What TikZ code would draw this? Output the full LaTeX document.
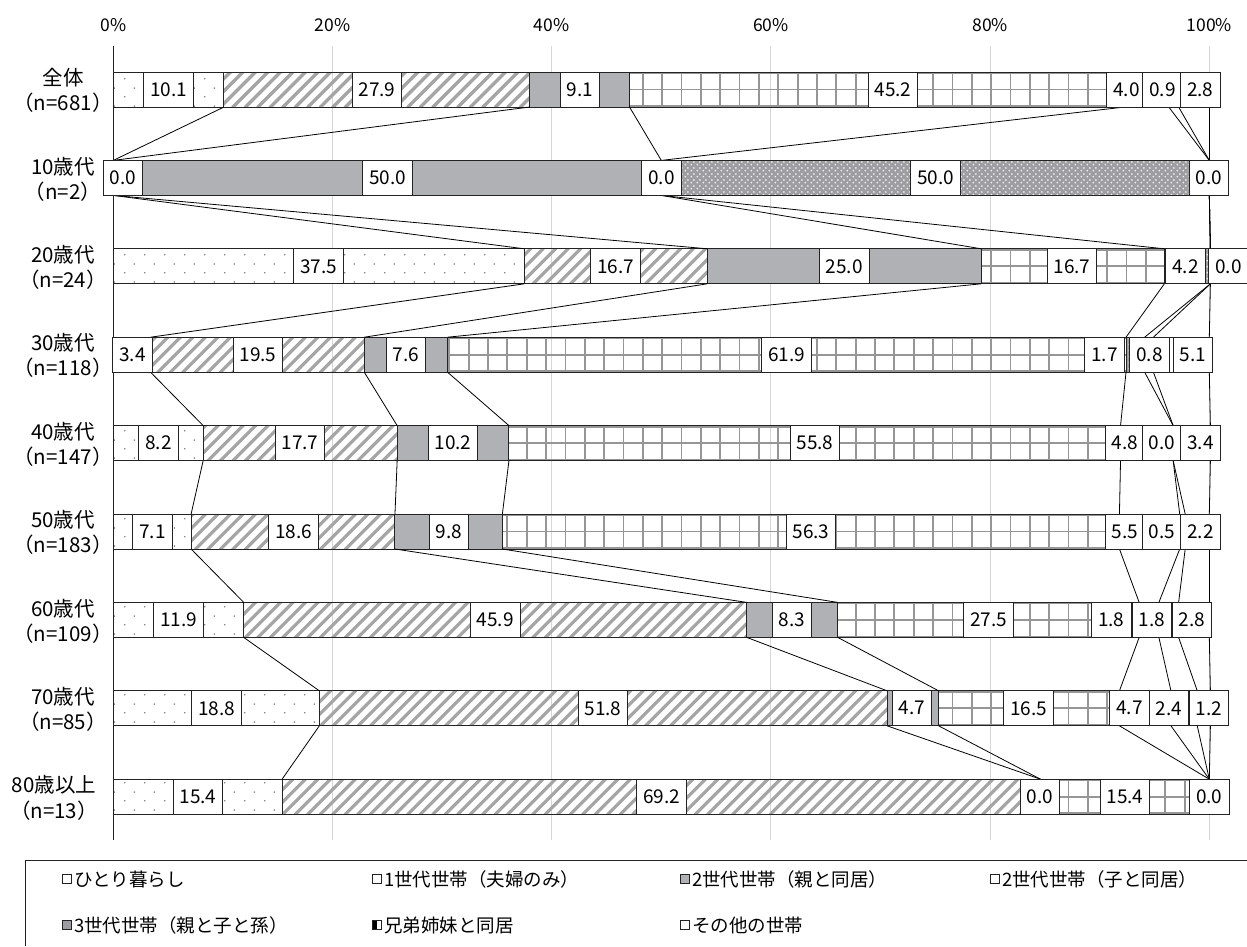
\documentclass[tikz,border=0pt]{standalone}
\usepackage{fontspec}
\setmainfont{Noto Sans CJK JP}
\usetikzlibrary{patterns,patterns.meta}

\definecolor{barline}{RGB}{35,35,35}
\definecolor{gridgray}{RGB}{215,215,215}
\definecolor{solidgray}{RGB}{176,177,181}
\definecolor{hatchgray}{RGB}{165,165,165}
\definecolor{gridlncol}{RGB}{150,150,150}
\definecolor{dotgray}{RGB}{130,130,130}
\definecolor{xgray}{RGB}{158,158,162}

\pgfdeclarepattern{name=sdots, type=uncolored,
  bottom left={\pgfpoint{0pt}{0pt}}, top right={\pgfpoint{20pt}{17.6pt}},
  tile size={\pgfpoint{20pt}{17.6pt}},
  code={\pgfpathcircle{\pgfpoint{5pt}{4.4pt}}{0.9pt}\pgfpathcircle{\pgfpoint{15pt}{13.2pt}}{0.9pt}\pgfusepath{fill}}}
\pgfdeclarepattern{name=xmesh, type=uncolored,
  bottom left={\pgfpoint{0pt}{0pt}}, top right={\pgfpoint{6pt}{6pt}},
  tile size={\pgfpoint{6pt}{6pt}},
  code={\pgfpathcircle{\pgfpoint{1.5pt}{1.5pt}}{1.1pt}\pgfpathcircle{\pgfpoint{4.5pt}{4.5pt}}{1.1pt}\pgfusepath{fill}}}

\tikzset{
  segline/.style={draw=barline, line width=1pt},
  hatchln/.style={draw=hatchgray, line width=3.2pt},
  gridln/.style={draw=gridlncol, line width=1.8pt},
  serline/.style={draw=black, line width=0.8pt},
  gridl/.style={draw=gridgray, line width=1pt},
  axisl/.style={draw=barline, line width=1.2pt},
  lbl/.style={draw=barline, fill=white, line width=1pt, minimum height=35pt, minimum width=39pt, inner xsep=6.5pt, inner ysep=0pt, font=\fontsize{19}{19}\selectfont},
  cat/.style={font=\fontsize{20.5}{21}\selectfont, inner sep=0pt},
  axl/.style={font=\fontsize{17.5}{18}\selectfont, inner sep=0pt},
  licon/.style={draw=barline, line width=0.8pt, minimum size=9.5pt, inner sep=0pt},
  ltxt/.style={font=\fontsize{18.5}{19}\selectfont, inner sep=0pt, anchor=west},
  legline/.style={draw=barline, line width=1pt}
}

\def\ax{113.3}\def\ux{10.96}
\newcommand\px[1]{\ax+\ux*#1}
\newcommand\rect[3]{({\px{#1}},#3-17.5) rectangle ({\px{#2}},#3+17.5)}
\newcommand\dotseg[3]{%
  \path[fill=white] \rect{#1}{#2}{#3};
  \path[pattern=sdots, pattern color=dotgray] \rect{#1}{#2}{#3};
  \draw[segline] \rect{#1}{#2}{#3};}
\newcommand\hatchseg[3]{%
  \begin{scope}
    \clip \rect{#1}{#2}{#3};
    \foreach \k in {0,...,92} \draw[hatchln] ({70+12.5*\k},#3+18) -- ++(36,-36);
  \end{scope}
  \draw[segline] \rect{#1}{#2}{#3};}
\newcommand\solidseg[3]{\draw[segline, fill=solidgray] \rect{#1}{#2}{#3};}
\newcommand\gridseg[3]{%
  \begin{scope}
    \clip \rect{#1}{#2}{#3};
    \foreach \k in {0,...,58} \draw[gridln] ({101+19.35*\k},#3-18) -- ++(0,36);
    \foreach \d in {-16.5,0,16.5} \draw[gridln] (100,#3+\d) -- (1250,#3+\d);
  \end{scope}
  \draw[segline] \rect{#1}{#2}{#3};}
\newcommand\xseg[3]{%
  \path[fill=xgray] \rect{#1}{#2}{#3};
  \path[pattern=xmesh, pattern color=white!80!xgray] \rect{#1}{#2}{#3};
  \draw[segline] \rect{#1}{#2}{#3};}
\newcommand\sibseg[3]{%
  \path[fill=white] \rect{#1}{#2}{#3};
  \path[pattern=vertical lines, pattern color=black] \rect{#1}{#2}{#3};
  \draw[segline] \rect{#1}{#2}{#3};}
\newcommand\othseg[3]{\draw[segline, fill=white] \rect{#1}{#2}{#3};}
\newcommand\barrow[8]{%
  \dotseg{0}{#2}{#1}\hatchseg{#2}{#3}{#1}\solidseg{#3}{#4}{#1}%
  \gridseg{#4}{#5}{#1}\xseg{#5}{#6}{#1}\sibseg{#6}{#7}{#1}\othseg{#7}{#8}{#1}}
\newcommand\slinks[3]{\foreach \a/\b in {#3} {\draw[serline] ({\px{\a}},#1+17.5) -- ({\px{\b}},#2-17.5);}}

\begin{document}
\begin{tikzpicture}[x=1pt,y=-1pt]
\useasboundingbox (0,0) rectangle (1247,946);
\fill[white] (0,0) rectangle (1247,946);

% gridlines and axis
\foreach \p in {20,40,60,80,100} \draw[gridl] ({\px{\p}},46) -- ({\px{\p}},840);
\foreach \p [count=\i] in {0,20,40,60,80,100} \node[axl] (ax\i) at ({\px{\p}},25) {\p\%};

% bars
\barrow{89.5}{10.1}{38.0}{47.1}{92.3}{96.3}{97.2}{100}
\barrow{177.9}{0}{0}{50}{50}{100}{100}{100}
\barrow{266.3}{37.5}{54.2}{79.2}{95.9}{100.1}{100.1}{100.1}
\barrow{354.7}{3.4}{22.9}{30.5}{92.4}{94.1}{94.9}{100}
\barrow{443.1}{8.2}{25.9}{36.1}{91.9}{96.7}{96.7}{100.1}
\barrow{531.5}{7.1}{25.7}{35.5}{91.8}{97.3}{97.8}{100}
\barrow{619.9}{11.9}{57.8}{66.1}{93.6}{95.4}{97.2}{100}
\barrow{708.3}{18.8}{70.6}{75.3}{91.8}{96.5}{98.9}{100.1}
\barrow{796.7}{15.4}{84.6}{84.6}{100}{100}{100}{100}

\draw[axisl] (113.3,46) -- (113.3,840);

% series lines
\slinks{89.5}{177.9}{10.1/0,38.0/0,47.1/50,92.3/50,96.3/100,97.2/100,100/100}
\slinks{177.9}{266.3}{0/37.5,0/54.2,50/79.2,50/95.9,100/100.1,100/100.1,100/100.1}
\slinks{266.3}{354.7}{37.5/3.4,54.2/22.9,79.2/30.5,95.9/92.4,100.1/94.1,100.1/94.9,100.1/100}
\slinks{354.7}{443.1}{3.4/8.2,22.9/25.9,30.5/36.1,92.4/91.9,94.1/96.7,94.9/96.7,100/100.1}
\slinks{443.1}{531.5}{8.2/7.1,25.9/25.7,36.1/35.5,91.9/91.8,96.7/97.3,96.7/97.8,100.1/100}
\slinks{531.5}{619.9}{7.1/11.9,25.7/57.8,35.5/66.1,91.8/93.6,97.3/95.4,97.8/97.2,100/100}
\slinks{619.9}{708.3}{11.9/18.8,57.8/70.6,66.1/75.3,93.6/91.8,95.4/96.5,97.2/98.9,100/100.1}
\slinks{708.3}{796.7}{18.8/15.4,70.6/84.6,75.3/84.6,91.8/100,96.5/100,98.9/100,100.1/100}

% value labels
\foreach \x/\t [count=\i] in {168.7/10.1,377/27.9,580/9.1,893/45.2,1126.5/4.0,1162.5/0.9,1200.3/2.8}
  \node[lbl] (a\i) at (\x,89.5) {\t};
\foreach \x/\t [count=\i] in {123/0.0,387.5/50.0,661.5/0.0,935.5/50.0,1209/0.0}
  \node[lbl] (b\i) at (\x,177.9) {\t};
\foreach \x/\t [count=\i] in {318.8/37.5,615.8/16.7,844.3/25.0,1072/16.7,1185.5/4.2,1228.5/0.0}
  \node[lbl] (c\i) at (\x,266.3) {\t};
\foreach \x/\t [count=\i] in {132.5/3.4,258/19.5,406/7.6,786.7/61.9,1104.5/1.7,1149.5/0.8,1193/5.1}
  \node[lbl] (d\i) at (\x,354.7) {\t};
\foreach \x/\t [count=\i] in {158.5/8.2,300/17.7,453/10.2,815/55.8,1125/4.8,1162/0.0,1200.5/3.4}
  \node[lbl] (e\i) at (\x,443.1) {\t};
\foreach \x/\t [count=\i] in {152.5/7.1,293.5/18.6,449/9.8,811/56.3,1125/5.5,1162/0.5,1200.5/2.2}
  \node[lbl] (f\i) at (\x,531.5) {\t};
\foreach \x/\t [count=\i] in {178.5/11.9,495.3/45.9,792/8.3,988.7/27.5,1111.3/1.8,1151.7/1.8,1191.8/2.8}
  \node[lbl] (g\i) at (\x,619.9) {\t};
\foreach \x/\t [count=\i] in {216.5/18.8,603/51.8,912/4.7,1028.5/16.5,1129.5/4.7,1168.7/2.4,1208.7/1.2}
  \node[lbl] (h\i) at (\x,708.3) {\t};
\foreach \x/\t [count=\i] in {198/15.4,661.5/69.2,1040/0.0,1125/15.4,1209.3/0.0}
  \node[lbl] (k\i) at (\x,796.7) {\t};

% category labels
\foreach \y/\xc/\ta/\tb [count=\i] in {89.5/63/全体/（n=681）,177.9/63/10歳代/（n=2）,266.3/63/20歳代/（n=24）,354.7/63/30歳代/（n=118）,443.1/63/40歳代/（n=147）,531.5/63/50歳代/（n=183）,619.9/63/60歳代/（n=109）,708.3/63/70歳代/（n=85）,796.7/54/80歳以上/（n=13）}
  {\node[cat] (cat\i) at (\xc,\y-11.5) {\ta};
   \node[cat] (n\i) at (\xc,\y+13.5) {\tb};}

% legend
\draw[legline] (25,946) -- (25,860) -- (1247,860);
\node[licon, fill=white] (i1) at (67,879) {};
\node[ltxt] (t1) at (74,879) {ひとり暮らし};
\node[licon, fill=white] (i2) at (377,879) {};
\node[ltxt] (t2) at (384,879) {1世代世帯（夫婦のみ）};
\node[licon, fill=solidgray] (i3) at (685,879) {};
\node[ltxt] (t3) at (692,879) {2世代世帯（親と同居）};
\node[licon, fill=white] (i4) at (995,879) {};
\node[ltxt] (t4) at (1002,879) {2世代世帯（子と同居）};
\node[licon, fill=xgray] (i5) at (67,925) {};
\node[ltxt] (t5) at (74,925) {3世代世帯（親と子と孫）};
\node[licon, fill=white, path picture={\fill[black] (path picture bounding box.south west) rectangle (path picture bounding box.north);}] (i6) at (377,925) {};
\node[ltxt] (t6) at (384,925) {兄弟姉妹と同居};
\node[licon, fill=white] (i7) at (685,925) {};
\node[ltxt] (t7) at (692,925) {その他の世帯};
\end{tikzpicture}
\end{document}
